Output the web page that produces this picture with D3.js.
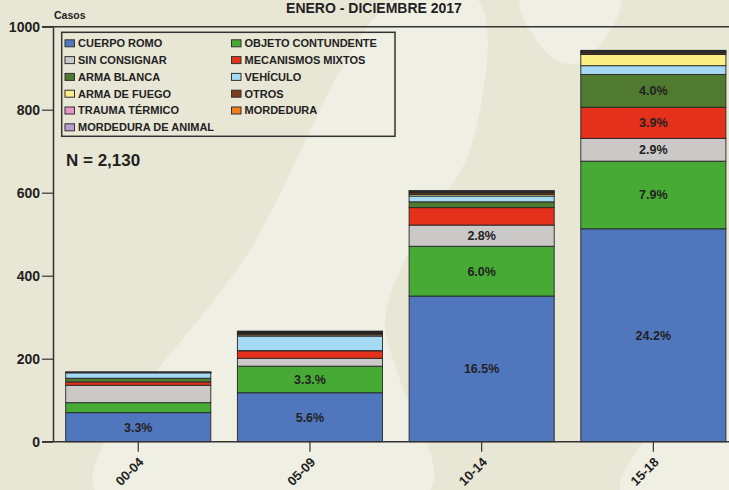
<!DOCTYPE html>
<html>
<head>
<meta charset="utf-8">
<script src="https://cdn.jsdelivr.net/npm/d3@7"></script>
<style>
  body { margin: 0; background: #e8e6d5; }
  svg { display: block; font-family: 'Liberation Sans', Arial, sans-serif; }
</style>
</head>
<body>
<div id="chart"></div>
<script>
var categories = ['00-04', '05-09', '10-14', '15-18'];
var totals = ['190', '294', '657', '989'];
var seriesNames = ['CUERPO ROMO', 'OBJETO CONTUNDENTE', 'SIN CONSIGNAR', 'MECANISMOS MIXTOS',
    'ARMA BLANCA', 'VEHÍCULO', 'ARMA DE FUEGO', 'OTROS', 'TRAUMA TÉRMICO', 'MORDEDURA',
    'MORDEDURA DE ANIMAL'];
var seriesColors = ['#5076be', '#46aa35', '#cbc8c8', '#e5301c', '#4f7a30', '#a6daf4',
    '#fbee84', '#7a3d1a', '#e695c8', '#f07f1b', '#b89cd2'];

var cuerpoRomo = [70, 118, 351, 513];
var objetoContundente = [24, 64, 120, 163];
var sinConsignar = [42, 19, 51, 55];
var mecanismosMixtos = [8, 18, 42, 75];
var armaBlanca = [9, 0.5, 14, 79];
var vehiculo = [13, 35, 14, 21];
var armaDeFuego = [0.5, 3, 4, 27];
var otros = [0.5, 3, 4, 4];
var traumaTermico = [0.3, 2, 2, 2];
var mordedura = [0.3, 2, 2, 2];
var mordeduraAnimal = [0.3, 2, 1, 2];

// porcentajes impresos dentro de los segmentos ('' = sin texto)
var pctCuerpoRomo = ['3.3%', '5.6%', '16.5%', '24.2%'];
var pctObjeto = ['', '3.3.%', '6.0%', '7.9%'];
var pctSinConsignar = ['', '', '2.8%', '2.9%'];
var pctMecanismos = ['', '', '', '3.9%'];
var pctArmaBlanca = ['', '', '', '4.0%'];

var yTicks = [0, 200, 400, 600, 800, 1000];

var allSeries = [cuerpoRomo, objetoContundente, sinConsignar, mecanismosMixtos, armaBlanca,
    vehiculo, armaDeFuego, otros, traumaTermico, mordedura, mordeduraAnimal];
var allPct = [pctCuerpoRomo, pctObjeto, pctSinConsignar, pctMecanismos, pctArmaBlanca];

var W = 729, H = 490;
var axisX = 53;
var font = "'Liberation Sans', Arial, sans-serif";

var svg = d3.select('#chart').append('svg').attr('width', W).attr('height', H);

// fondo decorativo
svg.append('rect').attr('width', W).attr('height', H).attr('fill', '#e8e6d5');
var swoosh = [
    [[395, 0], [478, 0], [470, 150], [420, 230], [385, 320], [400, 380], [430, 490], [95, 490], [250, 250]],
    [[620, 490], [729, 360], [729, 490]],
    [[520, 0], [620, 0], [585, 60], [555, 60]]
];
svg.selectAll('.swoosh')
    .data(swoosh)
    .enter()
    .append('path')
    .attr('class', 'swoosh')
    .attr('d', d => d3.line().curve(d3.curveCatmullRomClosed)(d))
    .attr('fill', '#f0efe3');

var table = categories.map(function (c, i) {
    var row = { cat: c };
    seriesNames.forEach(function (s, j) { row[s] = allSeries[j][i]; });
    return row;
});
var stacked = d3.stack().keys(seriesNames)(table);

var x = d3.scaleBand()
    .domain(categories)
    .range([axisX, 738.6])
    .paddingInner(0.155)
    .paddingOuter(0.074);
var y = d3.scaleLinear().domain([0, 1000]).range([441.7, 26.7]);

// título
svg.append('text')
    .attr('x', 374)
    .attr('y', 13)
    .attr('text-anchor', 'middle')
    .style('font-size', '14px')
    .style('font-weight', 'bold')
    .style('fill', '#222')
    .text('ENERO - DICIEMBRE 2017');

svg.append('text')
    .attr('x', 54)
    .attr('y', 19)
    .style('font-size', '10.5px')
    .style('font-weight', 'bold')
    .style('fill', '#222')
    .text('Casos');

// línea superior del marco
svg.append('line')
    .attr('x1', 42).attr('x2', W)
    .attr('y1', y(1000)).attr('y2', y(1000))
    .attr('stroke', '#333').attr('stroke-width', 1.5);

// eje Y
var yAxis = svg.append('g')
    .attr('transform', `translate(${axisX},0)`)
    .call(d3.axisLeft(y).tickValues(yTicks).tickFormat(d3.format('d'))
        .tickSize(11).tickSizeOuter(0).tickPadding(2));
yAxis.select('.domain').attr('stroke', '#333').attr('stroke-width', 1.5);
yAxis.selectAll('.tick line').attr('stroke', '#333').attr('stroke-width', 1.2);
yAxis.selectAll('.tick text')
    .style('font-size', '14px')
    .style('font-weight', 'bold')
    .style('fill', '#222')
    .style('font-family', font);

// barras apiladas
var layers = svg.selectAll('.layer')
    .data(stacked)
    .enter()
    .append('g')
    .attr('class', 'layer')
    .attr('fill', (d, i) => seriesColors[i]);

layers.selectAll('rect')
    .data(d => d)
    .enter()
    .append('rect')
    .attr('x', d => x(d.data.cat))
    .attr('y', d => y(d[1]))
    .attr('width', x.bandwidth())
    .attr('height', d => y(d[0]) - y(d[1]))
    .attr('stroke', '#262626')
    .attr('stroke-width', 0.9);

// porcentajes
allPct.forEach(function (labels, j) {
    svg.selectAll('.pct' + j)
        .data(stacked[j].filter((d, i) => labels[i] !== ''))
        .enter()
        .append('text')
        .attr('x', d => x(d.data.cat) + x.bandwidth() / 2)
        .attr('y', d => (y(d[0]) + y(d[1])) / 2)
        .attr('dy', '0.35em')
        .attr('text-anchor', 'middle')
        .style('font-size', '12.5px')
        .style('font-weight', 'bold')
        .style('fill', '#222')
        .text(d => labels[categories.indexOf(d.data.cat)]);
});

// totales
var top = stacked[stacked.length - 1];
svg.selectAll('.total')
    .data(top)
    .enter()
    .append('text')
    .attr('class', 'total')
    .attr('x', d => x(d.data.cat) + x.bandwidth() / 2)
    .attr('y', d => y(d[1]) - 9)
    .attr('text-anchor', 'middle')
    .style('font-size', '14px')
    .style('font-weight', 'bold')
    .style('fill', '#222')
    .text((d, i) => totals[i]);

// eje X
var xAxis = svg.append('g')
    .attr('transform', `translate(0,${y(0)})`)
    .call(d3.axisBottom(x).tickSize(10).tickSizeOuter(0));
xAxis.select('.domain').remove();
xAxis.selectAll('.tick line').attr('stroke', '#333').attr('stroke-width', 1.2);
xAxis.selectAll('.tick text')
    .attr('text-anchor', 'end')
    .attr('transform', 'translate(3,18) rotate(-45)')
    .attr('y', 0)
    .attr('dy', '0.35em')
    .style('font-size', '13px')
    .style('font-weight', 'bold')
    .style('fill', '#222')
    .style('font-family', font);
svg.append('line')
    .attr('x1', 42).attr('x2', W)
    .attr('y1', y(0)).attr('y2', y(0))
    .attr('stroke', '#333').attr('stroke-width', 1.5);

// leyenda
var legend = svg.append('g');
legend.append('rect')
    .attr('x', 61.7).attr('y', 32.3)
    .attr('width', 333.3).attr('height', 104)
    .attr('fill', 'none')
    .attr('stroke', '#333')
    .attr('stroke-width', 1.5);

var items = legend.selectAll('.item')
    .data(seriesNames)
    .enter()
    .append('g')
    .attr('class', 'item')
    .attr('transform', (d, i) => `translate(${i % 2 ? 231.5 : 65},${43.3 + Math.floor(i / 2) * 16.8})`);
items.append('rect')
    .attr('x', 0).attr('y', -3.5)
    .attr('width', 9.5).attr('height', 7)
    .attr('fill', (d, i) => seriesColors[i])
    .attr('stroke', '#333')
    .attr('stroke-width', 1);
items.append('text')
    .attr('x', 13)
    .attr('dy', '0.36em')
    .style('font-size', '11px')
    .style('font-weight', 'bold')
    .style('fill', '#222')
    .text(d => d);

svg.append('text')
    .attr('x', 66)
    .attr('y', 166)
    .style('font-size', '17px')
    .style('font-weight', 'bold')
    .style('fill', '#222')
    .text('N = 2,130');
</script>
</body>
</html>
